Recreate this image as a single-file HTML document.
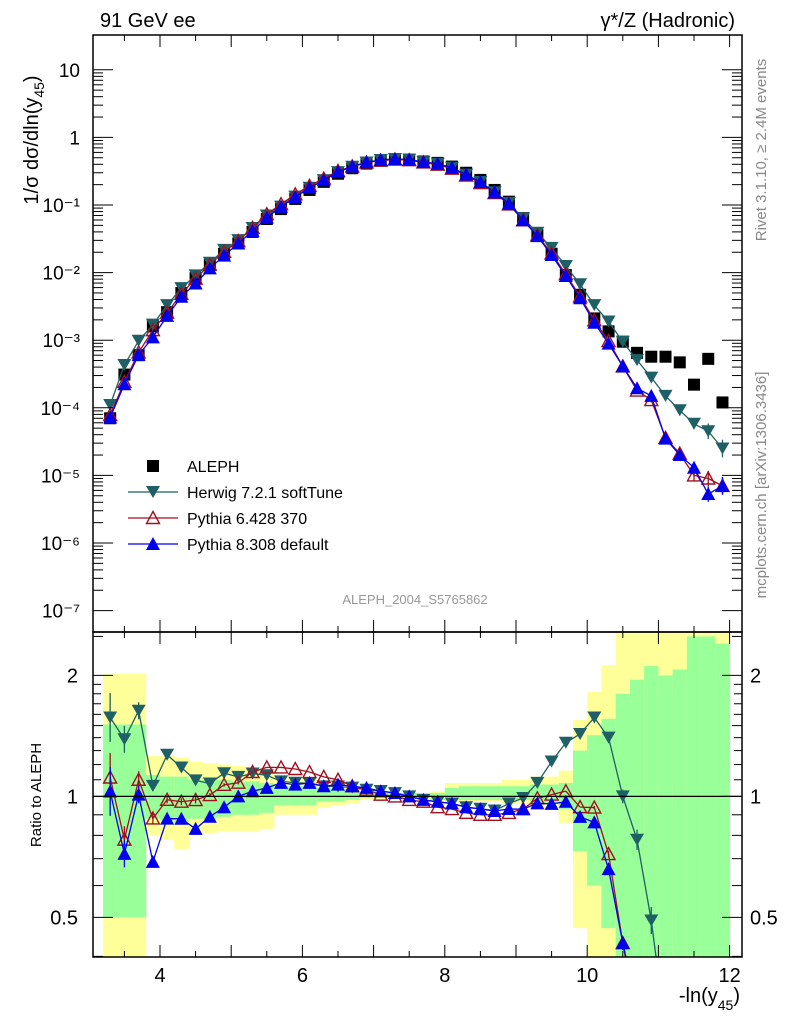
<!DOCTYPE html>
<html><head><meta charset="utf-8"><style>
html,body{margin:0;padding:0;background:#fff;width:786px;height:1024px;overflow:hidden;}
svg{display:block;}
svg text{font-family:"Liberation Sans",sans-serif;}
</style></head><body>
<svg id="c" width="786" height="1024" xmlns="http://www.w3.org/2000/svg">
<defs>
<clipPath id="cpTop"><rect x="93" y="35" width="649" height="597"/></clipPath>
<clipPath id="cpBot"><rect x="93" y="632" width="649" height="325"/></clipPath>
</defs>
<g id="bands" clip-path="url(#cpBot)"></g>
<g id="top" clip-path="url(#cpTop)"></g>
<g id="bot" clip-path="url(#cpBot)"></g>
<g id="axes"></g>
<text x="100" y="27" font-size="20">91 GeV ee</text>
<text x="735" y="27" font-size="20" text-anchor="end">γ*/Z (Hadronic)</text>
<text transform="translate(38,140) rotate(-90)" font-size="20" text-anchor="middle">1/σ  dσ/dln(y<tspan font-size="14" dy="6">45</tspan><tspan dy="-6">)</tspan></text>
<text transform="translate(766,150) rotate(-90)" font-size="15" fill="#888" text-anchor="middle">Rivet 3.1.10, ≥ 2.4M events</text>
<text transform="translate(766,485) rotate(-90)" font-size="15" fill="#888" text-anchor="middle">mcplots.cern.ch [arXiv:1306.3436]</text>
<text x="415" y="604" font-size="13" fill="#999" text-anchor="middle">ALEPH_2004_S5765862</text>
<text transform="translate(41,795) rotate(-90)" font-size="15" text-anchor="middle">Ratio to ALEPH</text>
<text x="740" y="1002" font-size="20" text-anchor="end">-ln(y<tspan font-size="14" dy="8">45</tspan><tspan dy="-8">)</tspan></text>
<g id="legend"></g>
</svg>
<script>
const xCenters=[3.3,3.5,3.7,3.9,4.1,4.3,4.5,4.7,4.9,5.1,5.3,5.5,5.7,5.9,6.1,6.3,6.5,6.7,6.9,7.1,7.3,7.5,7.7,7.9,8.1,8.3,8.5,8.7,8.9,9.1,9.3,9.5,9.7,9.9,10.1,10.3,10.5,10.7,10.9,11.1,11.3,11.5,11.7,11.9];
const aleph=[7e-5,3.1e-4,6e-4,1.6e-3,2.6e-3,5e-3,8.3e-3,1.3e-2,1.9e-2,2.7e-2,4.0e-2,6.2e-2,8.7e-2,0.123,0.167,0.22,0.29,0.35,0.41,0.45,0.47,0.47,0.44,0.42,0.37,0.30,0.235,0.167,0.112,0.064,0.036,0.019,9.2e-3,4.7e-3,2.1e-3,1.35e-3,9.5e-4,6.5e-4,5.7e-4,5.7e-4,4.7e-4,2.2e-4,5.3e-4,1.2e-4];
const herwig=[1.1e-4,4.3e-4,9.8e-4,1.7e-3,3.3e-3,5.9e-3,9.1e-3,1.40e-2,2.17e-2,3.02e-2,0.0456,0.070,0.0948,0.133,0.180,0.233,0.307,0.368,0.426,0.464,0.479,0.47,0.431,0.407,0.355,0.282,0.219,0.154,0.1075,0.0634,0.0389,0.0232,0.01251,6.72e-3,3.30e-3,1.89e-3,9.5e-4,5.07e-4,2.8e-4,1.5e-4,9.2e-5,5.8e-5,4.5e-5,2.5e-5];
const py6=[7.8e-5,2.42e-4,6.6e-4,1.41e-3,2.55e-3,4.85e-3,8.13e-3,1.31e-2,2.03e-2,2.92e-2,0.046,0.0732,0.1027,0.1439,0.192,0.246,0.319,0.371,0.426,0.4545,0.47,0.4606,0.4268,0.3948,0.3441,0.273,0.2115,0.1503,0.1019,0.0595,0.0356,0.0192,9.48e-3,4.42e-3,1.97e-3,9.7e-4,4.1e-4,1.8e-4,1.3e-4,3.6e-5,2.1e-5,1.0e-5,9e-6,7e-6];
const py8=[7.2e-5,2.23e-4,6.06e-4,1.10e-3,2.29e-3,4.4e-3,6.89e-3,1.157e-2,1.786e-2,2.7e-2,0.0412,0.0651,0.094,0.1316,0.1804,0.2332,0.3103,0.371,0.4305,0.4635,0.4794,0.47,0.4312,0.4074,0.3552,0.282,0.2186,0.1536,0.1042,0.0595,0.0346,0.0182,8.92e-3,4.18e-3,1.81e-3,8.9e-4,4.1e-4,1.95e-4,1.5e-4,3.5e-5,2.0e-5,1.3e-5,5.3e-6,7e-6];
const relErr=[0.15,0.08,0.05,0.03,0.02,0.02,0.02,0.01,0.01,0.01,0,0,0,0,0,0,0,0,0,0,0,0,0,0,0,0,0,0,0,0,0,0,0,0,0.01,0.02,0.04,0.06,0.08,0.12,0.15,0.2,0.3,0.35];
const yelLo=[0.3,0.3,0.3,0.80,0.78,0.74,0.80,0.81,0.82,0.82,0.82,0.83,0.90,0.90,0.90,0.94,0.95,0.96,0.98,0.98,0.98,0.98,0.98,0.97,0.97,0.97,0.97,0.97,0.96,0.96,0.93,0.93,0.86,0.47,0.3,0.3,0.3,0.3,0.3,0.3,0.3,0.3,0.3,0.3];
const yelHi=[2.02,2.02,2.02,1.26,1.26,1.25,1.22,1.21,1.20,1.19,1.18,1.17,1.12,1.11,1.10,1.07,1.06,1.05,1.03,1.02,1.02,1.02,1.02,1.03,1.08,1.08,1.08,1.08,1.10,1.10,1.12,1.12,1.16,1.55,1.82,2.12,2.6,2.6,2.6,2.6,2.6,2.6,2.6,2.6];
const grnLo=[0.50,0.50,0.50,0.88,0.87,0.86,0.88,0.88,0.89,0.90,0.90,0.91,0.95,0.95,0.95,0.97,0.97,0.98,0.99,0.99,0.99,0.99,0.99,0.98,0.98,0.98,0.98,0.98,0.98,0.98,0.96,0.96,0.93,0.73,0.60,0.47,0.3,0.3,0.3,0.3,0.3,0.3,0.3,0.3];
const grnHi=[1.51,1.51,1.51,1.13,1.12,1.12,1.10,1.10,1.10,1.09,1.09,1.08,1.06,1.06,1.06,1.05,1.04,1.04,1.02,1.02,1.02,1.02,1.02,1.02,1.05,1.06,1.06,1.06,1.06,1.06,1.07,1.07,1.08,1.30,1.42,1.56,1.80,1.95,2.11,2.0,2.07,2.5,2.5,2.4];
const xTicks=[4,6,8,10,12];
const yTopTicks=[1e-7,1e-6,1e-5,1e-4,1e-3,1e-2,1e-1,1,10];
const yTopLabels=["10\u207B\u2077","10\u207B\u2076","10\u207B\u2075","10\u207B\u2074","10\u207B\u00B3","10\u207B\u00B2","10\u207B\u00B9","1","10"];
const ratioTicks=[0.5,1,2];

const NS="http://www.w3.org/2000/svg";
const X=v=>160+(v-4)*71.2;
const YT=v=>137.4-Math.log10(v)*67.6;
const YR=v=>796.4-Math.log10(v)*402;
const clampY=(y,lo,hi)=>Math.max(lo,Math.min(hi,y));
function el(tag,attrs,parent){const e=document.createElementNS(NS,tag);for(const k in attrs)e.setAttribute(k,attrs[k]);parent.appendChild(e);return e;}
const gTop=document.getElementById('top'),gBot=document.getElementById('bot'),gBand=document.getElementById('bands'),gAx=document.getElementById('axes'),gLeg=document.getElementById('legend');

xCenters.forEach((c,i)=>{
  const x0=X(c-0.1),w=X(c+0.1)-x0+0.5;
  const yh=clampY(YR(yelHi[i]),630,960),yl=clampY(YR(yelLo[i]),630,960);
  let r=el('rect',{x:x0,y:yh,width:w,height:yl-yh,fill:'#ffff99'},gBand);
  
  
  const gh=clampY(YR(grnHi[i]),630,960),gl=clampY(YR(grnLo[i]),630,960);
  r=el('rect',{x:x0,y:gh,width:w,height:gl-gh,fill:'#99ff99'},gBand);
  
  
});

function marker(type,x,y,color,parent,name){
  let m;
  if(type==='sq') m=el('rect',{x:x-6,y:y-6,width:12,height:12,fill:'#000'},parent);
  else if(type==='down') m=el('polygon',{points:`${x-7},${y-6} ${x+7},${y-6} ${x},${y+6}`,fill:color},parent);
  else if(type==='upo') m=el('polygon',{points:`${x-6.5},${y+5.5} ${x+6.5},${y+5.5} ${x},${y-6.5}`,fill:'none',stroke:color,'stroke-width':1.4},parent);
  else m=el('polygon',{points:`${x-7},${y+6} ${x+7},${y+6} ${x},${y-7}`,fill:color},parent);
  
  
}
function clipSeg(x1,y1,x2,y2,lo,hi){
  if((y1<lo&&y2<lo)||(y1>hi&&y2>hi))return null;
  const f=(yy)=>x1+(x2-x1)*(yy-y1)/(y2-y1);
  if(y1<lo){x1=f(lo);y1=lo;} else if(y1>hi){x1=f(hi);y1=hi;}
  // recompute using original direction for second endpoint
  return [x1,y1,x2,y2];
}
function series(vals,color,type,name,ratio){
  const g=ratio?gBot:gTop;
  const Y=ratio?YR:YT;
  const lo=ratio?628:30, hi=ratio?962:636;
  const xs=xCenters.map(c=>X(c));
  const ys=vals.map((v,i)=>Y(ratio?v/aleph[i]:v));
  let d='';
  for(let i=0;i<xs.length-1;i++){
    let x1=xs[i],y1=ys[i],x2=xs[i+1],y2=ys[i+1];
    if((y1<lo&&y2<lo)||(y1>hi&&y2>hi))continue;
    const ix=(yy)=>xs[i]+(xs[i+1]-xs[i])*(yy-ys[i])/(ys[i+1]-ys[i]);
    if(y1<lo){x1=ix(lo);y1=lo;}else if(y1>hi){x1=ix(hi);y1=hi;}
    if(y2<lo){x2=ix(lo);y2=lo;}else if(y2>hi){x2=ix(hi);y2=hi;}
    d+=`M${x1.toFixed(2)},${y1.toFixed(2)}L${x2.toFixed(2)},${y2.toFixed(2)}`;
  }
  const l=el('path',{d:d,fill:'none',stroke:color,'stroke-width':1.3},g);
  
  
  xCenters.forEach((c,i)=>{
    const e=relErr[i];
    if(ys[i]<lo-8||ys[i]>hi+8)return;
    if(e>0){const v=ratio?vals[i]/aleph[i]:vals[i];
      const b=el('line',{x1:X(c),x2:X(c),y1:clampY(Y(v*(1+e)),lo,hi),y2:clampY(Y(v/(1+e)),lo,hi),stroke:color,'stroke-width':1.3},g);
      
      }
    marker(type,X(c),ys[i],color,g,name+'-point');
  });
}
xCenters.forEach((c,i)=>marker('sq',X(c),YT(aleph[i]),'#000',gTop,'aleph-point'));
series(herwig,'#1f5f66','down','herwig',false);
series(py6,'#a01020','upo','pythia6',false);
series(py8,'#0000ee','up','pythia8',false);
series(herwig,'#1f5f66','down','herwig-ratio',true);
series(py6,'#a01020','upo','pythia6-ratio',true);
series(py8,'#0000ee','up','pythia8-ratio',true);
let one=el('line',{x1:93,x2:742,y1:YR(1),y2:YR(1),stroke:'#000','stroke-width':1.2},gBot);



[[35,632],[632,957]].forEach(([t,b])=>{
  const f=el('rect',{x:93,y:t,width:649,height:b-t,fill:'none',stroke:'#000','stroke-width':1.5},gAx);
  
  
  for(let v=3.5;v<=12.01;v+=0.5){
    const maj=Math.abs(v-Math.round(v))<1e-6;const L=maj?12:6;
    el('line',{x1:X(v),x2:X(v),y1:t,y2:t+L,stroke:'#000'},gAx);
    el('line',{x1:X(v),x2:X(v),y1:b,y2:b-L,stroke:'#000'},gAx);
  }
});
xTicks.forEach(v=>{const t=el('text',{x:X(v),y:982,'font-size':20,'text-anchor':'middle'},gAx);t.textContent=v;
  
  });
yTopTicks.forEach((v,i)=>{
  const y=YT(v);
  el('line',{x1:93,x2:113,y1:y,y2:y,stroke:'#000'},gAx);
  el('line',{x1:742,x2:722,y1:y,y2:y,stroke:'#000'},gAx);
  if(i<yTopTicks.length-1){for(let k=2;k<10;k++){const yy=YT(v*k);
    el('line',{x1:93,x2:103,y1:yy,y2:yy,stroke:'#000'},gAx);el('line',{x1:742,x2:732,y1:yy,y2:yy,stroke:'#000'},gAx);}}
  const t=el('text',{x:80,y:y+7,'font-size':19,'text-anchor':'end'},gAx);t.textContent=yTopLabels[i];
  
  
});
[0.4,0.6,0.7,0.8,0.9,1.5,2.5].forEach(v=>{const y=YR(v);el('line',{x1:93,x2:103,y1:y,y2:y,stroke:'#000'},gAx);el('line',{x1:742,x2:732,y1:y,y2:y,stroke:'#000'},gAx);});
[1.1,1.2,1.3,1.4,1.6,1.7,1.8,1.9].forEach(v=>{const y=YR(v);el('line',{x1:93,x2:101,y1:y,y2:y,stroke:'#000'},gAx);el('line',{x1:742,x2:734,y1:y,y2:y,stroke:'#000'},gAx);});
ratioTicks.forEach(v=>{const y=YR(v);
  el('line',{x1:93,x2:113,y1:y,y2:y,stroke:'#000'},gAx);el('line',{x1:742,x2:722,y1:y,y2:y,stroke:'#000'},gAx);
  let t=el('text',{x:78,y:y+7,'font-size':20,'text-anchor':'end'},gAx);t.textContent=v;
  
  
  t=el('text',{x:750,y:y+7,'font-size':20},gAx);t.textContent=v;
  
  
});

const legNames=['ALEPH','Herwig 7.2.1 softTune','Pythia 6.428 370','Pythia 8.308 default'];
const legTypes=['sq','down','upo','up'];
const legColors=['#000','#1f5f66','#a01020','#0000ee'];
legNames.forEach((n,i)=>{
  const y=466+i*26;
  if(i>0){const l=el('line',{x1:128,x2:178,y1:y,y2:y,stroke:legColors[i],'stroke-width':1.3},gLeg);
    
    }
  marker(legTypes[i],153,y,legColors[i],gLeg,'legend-marker');
  const t=el('text',{x:187,y:y+6,'font-size':16},gLeg);t.textContent=n;
  
  
});
</script>
</body></html>
